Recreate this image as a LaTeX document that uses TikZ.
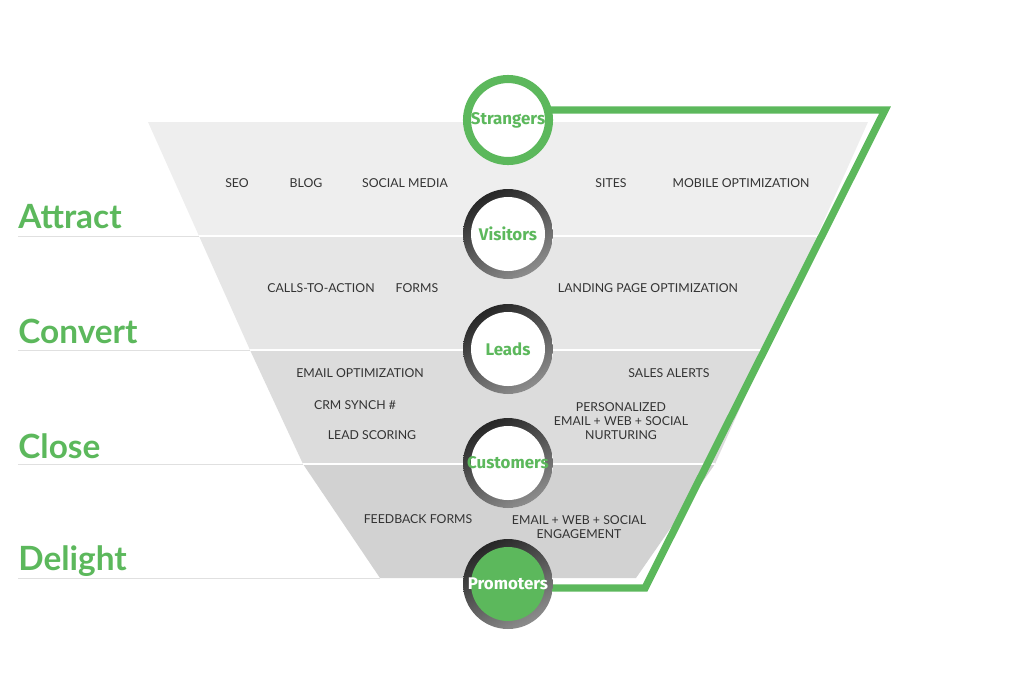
\documentclass[tikz,border=0pt]{standalone}
\usepackage{fontspec}
\setmainfont{Lato}
\newfontfamily\stagefont{Fira Sans}
\usepackage{tikz}
\usetikzlibrary{positioning}
\definecolor{hsgreen}{HTML}{5CB85C}
\definecolor{bandA}{HTML}{EEEEEE}
\definecolor{bandB}{HTML}{E6E6E6}
\definecolor{bandC}{HTML}{DCDCDC}
\definecolor{bandD}{HTML}{D2D2D2}
\definecolor{tactic}{HTML}{333333}
\tikzset{
  tactic/.style={font=\fontsize{7}{8}\selectfont, text=tactic, align=center, inner sep=0pt},
  phase/.style={font=\fontsize{19}{21}\selectfont\bfseries, text=hsgreen, anchor=west, inner sep=0pt},
  stage/.style={circle, minimum size=18mm, inner sep=0pt, font=\stagefont\fontsize{9.6}{10}\selectfont\bfseries},
  ring/.style={stage, fill=white, text=hsgreen, path picture={
      \shade[top color=black!85, bottom color=black!45, shading angle=30]
        (path picture bounding box.south west) rectangle (path picture bounding box.north east);
      \fill[white] (path picture bounding box.center) circle (37);
      }},
  sepline/.style={draw=black!12, line width=0.4pt},
}
\begin{document}
\begin{tikzpicture}[x=0.02cm, y=-0.02cm]
    \useasboundingbox (0,0) rectangle (1024,698);
    % funnel bands
    \fill[bandA] (148,122) -- (868,122) -- (817,236) -- (199,236) -- cycle;
    \fill[bandB] (199,236) -- (817,236) -- (766,350) -- (250,350) -- cycle;
    \fill[bandC] (250,350) -- (766,350) -- (715,464) -- (303,464) -- cycle;
    \fill[bandD] (303,464) -- (715,464) -- (636,578) -- (380,578) -- cycle;
    \draw[white, line width=0.6pt] (199,236) -- (817,236);
    \draw[white, line width=0.6pt] (250,350) -- (766,350);
    \draw[white, line width=0.6pt] (303,464) -- (715,464);

    % phases
    \node[phase] (attract) at (18,217) {Attract};
    \node[phase] (convert) at (18,331) {Convert};
    \node[phase] (close) at (18,446) {Close};
    \node[phase] (delight) at (18,561) {Delight};
    \draw[sepline] (18,236) -- (199,236);
    \draw[sepline] (18,350) -- (250,350);
    \draw[sepline] (18,464) -- (303,464);
    \draw[sepline] (18,578) -- (380,578);

    % green loop
    \coordinate (loopA) at (885,110);
    \coordinate (loopB) at (645,588);
    \draw[hsgreen, line width=4.2pt, line join=miter] (508,110) -- (loopA) -- (loopB) -- (508,588);

    % stages
    \node[stage, fill=white, draw=hsgreen, line width=4.6pt, minimum size=16.4mm, text=hsgreen] (strangers) at (508,120) {Strangers};
    \node[ring] (visitors) at (508,234) {Visitors};
    \node[ring] (leads) at (508,349) {Leads};
    \node[ring] (customers) at (508,463) {Customers};
    \node[stage, text=white, path picture={
      \shade[top color=black!85, bottom color=black!45, shading angle=30]
        (path picture bounding box.south west) rectangle (path picture bounding box.north east);
      \fill[hsgreen] (path picture bounding box.center) circle (37);
      }] (promoters) at (508,584) {Promoters};

    % tactics
    \node[tactic] (seo) at (237,183) {SEO};
    \node[tactic] (blog) at (306,183) {BLOG};
    \node[tactic] (social) at (405,183) {SOCIAL MEDIA};
    \node[tactic] (sites) at (611,183) {SITES};
    \node[tactic] (mobile) at (741,183) {MOBILE OPTIMIZATION};
    \node[tactic] (cta) at (321,288) {CALLS-TO-ACTION};
    \node[tactic] (forms) at (417,288) {FORMS};
    \node[tactic] (landing) at (648,288) {LANDING PAGE OPTIMIZATION};
    \node[tactic] (emailopt) at (360,373) {EMAIL OPTIMIZATION};
    \node[tactic] (alerts) at (669,373) {SALES ALERTS};
    \node[tactic] (crm) at (355,405) {CRM SYNCH \#};
    \node[tactic] (scoring) at (372,435) {LEAD SCORING};
    \node[tactic] (nurture) at (621,421) {PERSONALIZED\\EMAIL + WEB + SOCIAL\\NURTURING};
    \node[tactic] (feedback) at (418,519) {FEEDBACK FORMS};
    \node[tactic] (engage) at (579,527) {EMAIL + WEB + SOCIAL\\ENGAGEMENT};
\end{tikzpicture}
\end{document}
